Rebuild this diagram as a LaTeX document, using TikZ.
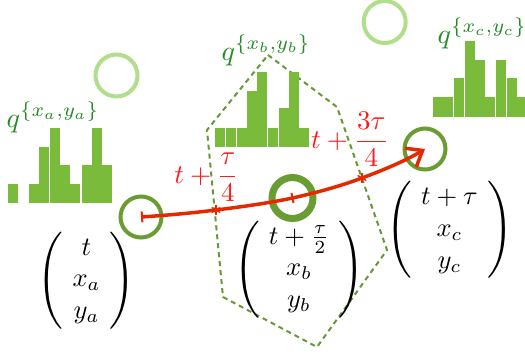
\documentclass[tikz,border=0pt]{standalone}
\usepackage{amsmath}
\usepackage{graphicx}
\usetikzlibrary{arrows.meta,calc}
\definecolor{histgreen}{RGB}{122,187,60}
\definecolor{ringdark}{RGB}{106,156,52}
\definecolor{ringlight}{RGB}{176,222,140}
\definecolor{qgreen}{RGB}{34,139,34}
\definecolor{polygreen}{RGB}{102,153,51}
\definecolor{curvered}{RGB}{228,40,0}
\definecolor{labred}{RGB}{255,25,25}
\newcommand{\bigvec}[1]{\vcenter{\hbox{\scalebox{1.22}{$\Biggl($}}}\hspace{3.5pt}\begin{matrix}#1\end{matrix}\hspace{3.5pt}\vcenter{\hbox{\scalebox{1.22}{$\Biggr)$}}}}
\begin{document}
\begin{tikzpicture}[x=1pt,y=-1pt,
  bar/.style={fill=histgreen},
  ring/.style={circle,draw=ringdark,line width=4pt,inner sep=0pt,minimum size=41pt},
  faintring/.style={circle,draw=ringlight,line width=4pt,inner sep=0pt,minimum size=42pt},
  qlab/.style={scale=2.8,transform shape,inner sep=0pt,text=qgreen,anchor=base west},
  redlab/.style={scale=2.7,transform shape,inner sep=0pt,text=labred,anchor=base},
  vec/.style={scale=2.65,transform shape,inner sep=0pt},
  poly/.style={draw=polygreen,line width=2pt,dash pattern=on 5pt off 4pt},
  curve/.style={draw=curvered,line width=3.5pt},
  starred/.style={draw=curvered,line width=1.4pt}]
\useasboundingbox (0,0) rectangle (525,360);
% dashed polygon
\coordinate (v1) at (268,55);
\coordinate (v2) at (337,107);
\coordinate (v3) at (387,250);
\coordinate (v4) at (317,347);
\coordinate (v5) at (223,297);
\coordinate (v6) at (207,130);
\draw[poly] (v1) -- (v2) -- (v3) -- (v4) -- (v5) -- (v6) -- cycle;
% histogram a
\fill[bar] (8,203.3) rectangle (18,184);
\fill[bar] (29,203.3) rectangle (39,184);
\fill[bar] (39,203.3) rectangle (49.3,147.3);
\fill[bar] (50,203.3) rectangle (60,128);
\fill[bar] (60,203.3) rectangle (70,165);
\fill[bar] (70,203.3) rectangle (80,184);
\fill[bar] (82,203.3) rectangle (92,165);
\fill[bar] (92,203.3) rectangle (102,128);
\fill[bar] (102,203.3) rectangle (112,165);
% histogram b
\fill[bar] (215,147.3) rectangle (225,127.7);
\fill[bar] (226,147.3) rectangle (236,127.7);
\fill[bar] (236.7,147.3) rectangle (246.7,127.7);
\fill[bar] (246.7,147.3) rectangle (257.3,91);
\fill[bar] (257.3,147.3) rectangle (267.3,71.7);
\fill[bar] (268.3,147.3) rectangle (278.3,127.7);
\fill[bar] (279,147.3) rectangle (289,108);
\fill[bar] (289,147.3) rectangle (299,71.7);
\fill[bar] (299,147.3) rectangle (309.3,127.7);
% histogram c
\fill[bar] (432.7,116.7) rectangle (452.7,96.7);
\fill[bar] (453.7,116.7) rectangle (463.7,78);
\fill[bar] (464.7,116.7) rectangle (475,40.7);
\fill[bar] (475,116.7) rectangle (485,60);
\fill[bar] (485,116.7) rectangle (495,96.7);
\fill[bar] (496,116.7) rectangle (506,60);
\fill[bar] (507,116.7) rectangle (517,78);
\fill[bar] (517,116.7) rectangle (525,96.7);
% labels q
\node[qlab] (qa) at (6,127) {$q^{\{x_a,y_a\}}$};
\node[qlab] (qb) at (221,60) {$q^{\{x_b,y_b\}}$};
\node[qlab] (qc) at (437,43) {$q^{\{x_c,y_c\}}$};
% faint rings
\node[faintring] (fa) at (116.5,75.5) {};
\node[faintring] (fc) at (384.7,22) {};
% rings
\node[ring] (ca) at (141,217) {};
\node[ring,line width=7pt,minimum size=41pt] (cb) at (292.5,198) {};
\node[ring] (cc) at (425,149) {};
% vectors
\node[vec] (ma) at (86.5,280.5) {$\bigvec{t\\ x_a\\ y_a}$};
\node[vec] (mb) at (299,269.5) {$\bigvec{t+\frac{\tau}{2}\\ x_b\\ y_b}$};
\node[vec] (mc) at (449.5,230) {$\bigvec{t+\tau\\ x_c\\ y_c}$};
% curve
\coordinate (p1) at (216,210);
\coordinate (p3) at (362,178);
\draw[curve,{Bar[width=11pt,line width=2pt]}-{Straight Barb[length=14pt,width=22pt,line width=3.5pt]}]
  (ca.center) .. controls (166,215.3) and (190.8,213.2) .. (p1)
  .. controls (241.2,206.8) and (267.7,203.3) .. (cb.center)
  .. controls (316.3,192.7) and (339.8,186.3) .. (p3)
  .. controls (384.2,169.7) and (405,161) .. (cc.center);
\draw[starred,line width=2pt] ($(cb.center)+(-1,-5)$) -- ($(cb.center)+(1,5)$);
\foreach \p in {p1,p3} {
  \draw[starred] ($(\p)+(0,-5)$) -- ($(\p)+(0,5)$);
  \draw[starred] ($(\p)+(-4.3,-2.5)$) -- ($(\p)+(4.3,2.5)$);
  \draw[starred] ($(\p)+(-4.3,2.5)$) -- ($(\p)+(4.3,-2.5)$);
}
% red labels
\node[redlab] (l1) at (206.5,183) {$t+\dfrac{\tau}{4}$};
\node[redlab] (l3) at (350,148) {$t+\dfrac{3\tau}{4}$};
\end{tikzpicture}
\end{document}
